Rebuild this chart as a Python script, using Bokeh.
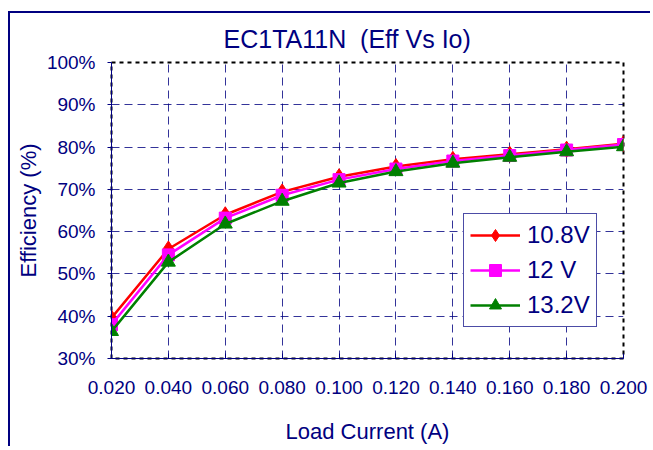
from bokeh.plotting import figure
from bokeh.models import FixedTicker, Range1d, Legend
from bokeh.embed import file_html
from bokeh.resources import INLINE

# ---- data ----
load_current = [0.02, 0.04, 0.06, 0.08, 0.10, 0.12, 0.14, 0.16, 0.18, 0.20]
eff_10v8 = [39.6, 55.9, 64.0, 69.4, 73.0, 75.4, 77.1, 78.3, 79.5, 80.8]
eff_12v = [38.0, 54.5, 63.2, 68.6, 72.3, 74.8, 76.7, 78.0, 79.3, 80.6]
eff_13v2 = [36.4, 52.8, 61.8, 67.2, 71.5, 74.2, 76.2, 77.6, 78.9, 80.1]
series_names = ["10.8V", "12 V", "13.2V"]
x_ticks = [0.02, 0.04, 0.06, 0.08, 0.10, 0.12, 0.14, 0.16, 0.18, 0.20]
x_tick_labels = ["0.020", "0.040", "0.060", "0.080", "0.100", "0.120", "0.140", "0.160", "0.180", "0.200"]
y_ticks = [30, 40, 50, 60, 70, 80, 90, 100]
y_tick_labels = ["30%", "40%", "50%", "60%", "70%", "80%", "90%", "100%"]
chart_title = "EC1TA11N\u00a0\u00a0(Eff Vs Io)"

NAVY = "#000080"
FONT = "Liberation Sans"

p = figure(frame_width=512, frame_height=296, output_backend="svg", toolbar_location=None,
           min_border_left=101, min_border_right=27, min_border_top=49, min_border_bottom=80,
           x_range=Range1d(0.02, 0.20), y_range=Range1d(30, 100),
           title=chart_title)
p.styles = {"border-left": "2px solid #000080", "border-top": "2px solid #000080",
            "margin-top": "11px", "margin-left": "8px"}

p.title.text_font = FONT
p.title.text_font_size = "25px"
p.title.text_font_style = "normal"
p.title.text_color = NAVY
p.title.align = "left"
p.title.offset = 112
p.title.standoff = 19

p.outline_line_color = "black"
p.outline_line_width = 2
p.outline_line_dash = "4 4"
p.background_fill_color = "white"
p.border_fill_color = "white"

# axes
for ax in (p.xaxis[0], p.yaxis[0]):
    ax.axis_line_color = NAVY
    ax.axis_line_width = 1
    ax.major_tick_line_color = NAVY
    ax.minor_tick_line_color = None
    ax.major_label_text_font = FONT
    ax.major_label_text_font_size = "19px"
    ax.major_label_text_color = NAVY
    ax.axis_label_text_font = FONT
    ax.axis_label_text_font_size = "22px"
    ax.axis_label_text_font_style = "normal"
    ax.axis_label_text_color = NAVY

p.xaxis.ticker = FixedTicker(ticks=x_ticks)
p.xaxis.major_label_overrides = {t: l for t, l in zip(x_ticks, x_tick_labels)}
p.xaxis.major_tick_in = 5
p.xaxis.major_tick_out = 0
p.xaxis.major_label_standoff = 22
p.xaxis.axis_label = "Load Current (A)"
p.xaxis.axis_label_standoff = 22

p.yaxis.ticker = FixedTicker(ticks=y_ticks)
p.yaxis.major_label_overrides = {t: l for t, l in zip(y_ticks, y_tick_labels)}
p.yaxis.major_tick_in = 0
p.yaxis.major_tick_out = 4
p.yaxis.major_label_standoff = 12
p.yaxis.axis_label = "Efficiency (%)"
p.yaxis.axis_label_standoff = 3

# grid
for g in (p.xgrid[0], p.ygrid[0]):
    g.grid_line_color = NAVY
    g.grid_line_alpha = 0.8
    g.grid_line_width = 1
    g.grid_line_dash = "8 5"

# series
styles = [
    (eff_10v8, "#FF0000", "diamond", 16),
    (eff_12v, "#FF00FF", "square", 12),
    (eff_13v2, "#008000", "triangle", 14),
]
items = []
for (vals, color, marker, size), name in zip(styles, series_names):
    r1 = p.line(load_current, vals, line_color=color, line_width=2.5)
    r2 = p.scatter(load_current, vals, marker=marker, size=size, fill_color=color, line_color=color)
    items.append((name, [r1, r2]))

legend = Legend(items=items, location=(352, 31))
legend.label_text_font = FONT
legend.label_text_font_size = "24px"
legend.label_text_color = NAVY
legend.glyph_width = 50
legend.glyph_height = 30
legend.label_standoff = 7
legend.spacing = 5
legend.padding = 6
legend.margin = 0
legend.border_line_color = NAVY
legend.border_line_alpha = 0.7
legend.border_line_width = 1
legend.background_fill_color = "white"
legend.background_fill_alpha = 1
p.add_layout(legend, "center")

open("out.html", "w").write(file_html(p, INLINE))
